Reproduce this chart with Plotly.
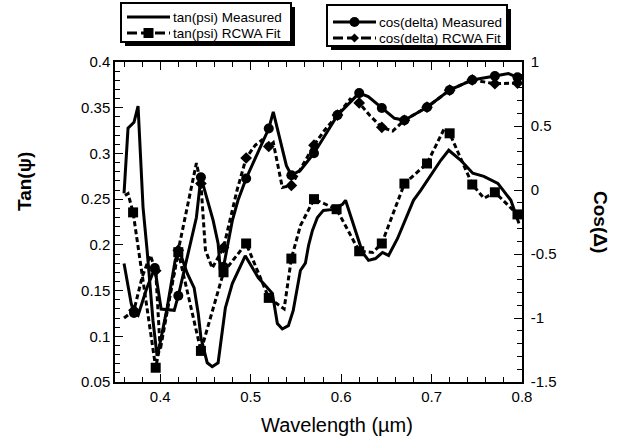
import plotly.graph_objects as go

FONT = "Arial, Liberation Sans, Helvetica, sans-serif"

# ---------------- data ----------------
# tan(psi) measured
tm_w = [0.360, 0.3644, 0.371, 0.3755, 0.381, 0.3855, 0.392, 0.3965, 0.3988, 0.4076, 0.4165, 0.421,
        0.4298, 0.4375, 0.442, 0.445, 0.452, 0.4575, 0.464, 0.472, 0.4797, 0.494, 0.5085, 0.524,
        0.5295, 0.535, 0.5417, 0.547, 0.555, 0.5605, 0.564, 0.5683, 0.5738, 0.5804, 0.5915, 0.6015,
        0.6049, 0.616, 0.6237, 0.6303, 0.638, 0.6458, 0.6525, 0.6624, 0.680, 0.688, 0.7102, 0.719,
        0.7323, 0.7456, 0.7578, 0.7733, 0.7877, 0.7966]
tm_v = [0.2564, 0.3276, 0.334, 0.3517, 0.241, 0.194, 0.117, 0.0787, 0.0875, 0.131, 0.183, 0.194,
        0.169, 0.153, 0.125, 0.0985, 0.071, 0.0667, 0.071, 0.131, 0.1577, 0.188, 0.164, 0.147,
        0.114, 0.108, 0.1116, 0.128, 0.172, 0.18, 0.1993, 0.2158, 0.23, 0.2377, 0.2388, 0.2443,
        0.2487, 0.2158, 0.1917, 0.183, 0.185, 0.1917, 0.1884, 0.207, 0.2487, 0.2596, 0.2925, 0.3035,
        0.2925, 0.2783, 0.275, 0.2673, 0.2487, 0.2235]

# tan(psi) RCWA fit
tf_w = [0.361, 0.3644, 0.370, 0.395, 0.420, 0.445, 0.470, 0.495, 0.520, 0.537, 0.545, 0.555,
        0.570, 0.595, 0.620, 0.635, 0.645, 0.670, 0.695, 0.714, 0.720, 0.745, 0.758, 0.770, 0.795]
tf_v = [0.254, 0.256, 0.2355, 0.0656, 0.192, 0.084, 0.170, 0.2015, 0.142, 0.130, 0.185, 0.221,
        0.250, 0.239, 0.193, 0.1917, 0.2015, 0.267, 0.289, 0.327, 0.322, 0.266, 0.251, 0.2575, 0.2333]

# cos(delta) measured
cm_w = [0.360, 0.368, 0.371, 0.3755, 0.385, 0.394, 0.401, 0.4155, 0.420, 0.433, 0.440, 0.445,
        0.4585, 0.464, 0.4665, 0.470, 0.4797, 0.486, 0.495, 0.520, 0.525, 0.5395, 0.545, 0.555,
        0.570, 0.596, 0.620, 0.630, 0.645, 0.659, 0.670, 0.695, 0.720, 0.745, 0.770, 0.785, 0.795]
cm_v = [-0.575, -0.89, -0.96, -0.98, -0.77, -0.61, -0.93, -0.94, -0.826, -0.418, -0.215, 0.10,
        -0.238, -0.418, -0.63, -0.60, -0.24, -0.08, 0.09, 0.48, 0.61, 0.19, 0.115, 0.154,
        0.287, 0.585, 0.757, 0.73, 0.64, 0.56, 0.545, 0.647, 0.78, 0.86, 0.89, 0.91, 0.88]

# cos(delta) RCWA fit
cf_w = [0.360, 0.371, 0.380, 0.389, 0.395, 0.400, 0.420, 0.440, 0.445, 0.450, 0.4575, 0.470,
        0.485, 0.495, 0.505, 0.5125, 0.520, 0.525, 0.535, 0.545, 0.570, 0.582, 0.596, 0.610,
        0.620, 0.632, 0.645, 0.657, 0.670, 0.695, 0.720, 0.745, 0.770, 0.795]
cf_v = [-1.0, -0.94, -0.68, -0.51, -0.63, -1.25, -0.47, 0.21, 0.05, -0.47, -0.61, -0.45,
        0.00, 0.25, 0.35, 0.39, 0.34, 0.37, 0.02, 0.036, 0.35, 0.47, 0.585, 0.71,
        0.68, 0.58, 0.49, 0.46, 0.545, 0.647, 0.78, 0.86, 0.83, 0.835]

marker_w = [0.370, 0.395, 0.420, 0.445, 0.470, 0.495, 0.520, 0.545, 0.570, 0.595,
            0.620, 0.645, 0.670, 0.695, 0.720, 0.745, 0.770, 0.795]

x_ticks = [0.4, 0.5, 0.6, 0.7, 0.8]
y1_ticks = [0.05, 0.1, 0.15, 0.2, 0.25, 0.3, 0.35, 0.4]
y2_ticks = [-1.5, -1.0, -0.5, 0.0, 0.5, 1.0]
y2_text = ["-1.5", "-1", "-0.5", "0", "0.5", "1"]

legend1_names = ["tan(psi) Measured", "tan(psi) RCWA Fit"]
legend2_names = ["cos(delta) Measured", "cos(delta) RCWA Fit"]

# ---------------- figure ----------------
W, H = 625, 444
ML, MR, MT, MB = 115, 103, 62, 62
PW, PH = W - ML - MR, H - MT - MB


def px(x):   # pixel -> paper x
    return (x - ML) / PW


def py(y):   # pixel -> paper y
    return (H - MB - y) / PH


def at_markers(ws, vs):
    out_w, out_v = [], []
    for m in marker_w:
        i = min(range(len(ws)), key=lambda k: abs(ws[k] - m))
        out_w.append(ws[i]); out_v.append(vs[i])
    return out_w, out_v


LW = 3
DASH = "5px,3px"
fig = go.Figure()

fig.add_trace(go.Scatter(x=tm_w, y=tm_v, mode="lines", name=legend1_names[0],
                         line=dict(color="black", width=LW), yaxis="y"))
fig.add_trace(go.Scatter(x=tf_w, y=tf_v, mode="lines", name=legend1_names[1],
                         line=dict(color="black", width=LW, dash=DASH), yaxis="y"))
mw, mv = at_markers(tf_w, tf_v)
fig.add_trace(go.Scatter(x=mw, y=mv, mode="markers", name=legend1_names[1],
                         marker=dict(symbol="square", size=10, color="black"), yaxis="y"))

fig.add_trace(go.Scatter(x=cm_w, y=cm_v, mode="lines", name=legend2_names[0],
                         line=dict(color="black", width=LW), yaxis="y2"))
mw, mv = at_markers(cm_w, cm_v)
fig.add_trace(go.Scatter(x=mw, y=mv, mode="markers", name=legend2_names[0],
                         marker=dict(symbol="circle", size=10, color="black"), yaxis="y2"))
fig.add_trace(go.Scatter(x=cf_w, y=cf_v, mode="lines", name=legend2_names[1],
                         line=dict(color="black", width=LW, dash=DASH), yaxis="y2"))
mw, mv = at_markers(cf_w, cf_v)
fig.add_trace(go.Scatter(x=mw, y=mv, mode="markers", name=legend2_names[1],
                         marker=dict(symbol="diamond", size=9, color="black"), yaxis="y2"))

# ---------------- legend boxes (drawn as shapes + text) ----------------
shapes, annotations = [], []


def legend_box(x0, y0, x1, y1, rows, names, styles):
    shapes.append(dict(type="rect", xref="paper", yref="paper", layer="above",
                       x0=px(x0 + 4), x1=px(x1 + 4), y0=py(y1 + 4), y1=py(y0 + 4),
                       fillcolor="black", line=dict(width=0)))
    shapes.append(dict(type="rect", xref="paper", yref="paper", layer="above",
                       x0=px(x0), x1=px(x1), y0=py(y1), y1=py(y0),
                       fillcolor="white", line=dict(color="black", width=2)))
    for (ry, name, (dash, sym)) in zip(rows, names, styles):
        lx0, lx1 = x0 + 6, x0 + 49
        shapes.append(dict(type="line", xref="paper", yref="paper", layer="above",
                           x0=px(lx0), x1=px(lx1), y0=py(ry), y1=py(ry),
                           line=dict(color="black", width=LW, dash=dash)))
        cx = (lx0 + lx1) / 2
        if sym == "square":
            shapes.append(dict(type="rect", xref="paper", yref="paper", layer="above",
                               x0=px(cx - 5), x1=px(cx + 5), y0=py(ry + 5), y1=py(ry - 5),
                               fillcolor="black", line=dict(width=0)))
        elif sym == "circle":
            shapes.append(dict(type="circle", xref="paper", yref="paper", layer="above",
                               x0=px(cx - 5), x1=px(cx + 5), y0=py(ry + 5), y1=py(ry - 5),
                               fillcolor="black", line=dict(width=0)))
        elif sym == "diamond":
            path = "M {} {} L {} {} L {} {} L {} {} Z".format(
                px(cx), py(ry - 4.5), px(cx + 4.5), py(ry), px(cx), py(ry + 4.5), px(cx - 4.5), py(ry))
            shapes.append(dict(type="path", xref="paper", yref="paper", layer="above",
                               path=path, fillcolor="black", line=dict(width=0)))
        annotations.append(dict(text=name, xref="paper", yref="paper", x=px(lx1 + 1), y=py(ry),
                                xanchor="left", yanchor="middle", showarrow=False,
                                font=dict(family=FONT, size=13.5, color="black")))


legend_box(121, 3, 291, 42, [17, 33], legend1_names, [("solid", None), ("10px,4px", "square")])
legend_box(327, 5, 507, 46, [22, 38], legend2_names, [("solid", "circle"), ("10px,4px", "diamond")])

annotations.append(dict(text="<b>Cos(\u0394)</b>", xref="paper", yref="paper", x=px(601), y=py(222),
                        xanchor="center", yanchor="middle", showarrow=False, textangle=90,
                        font=dict(family=FONT, size=19, color="black")))
annotations.append(dict(text="<b>Tan(\u03c8)</b>", xref="paper", yref="paper", x=px(24), y=py(182),
                        xanchor="center", yanchor="middle", showarrow=False, textangle=-90,
                        font=dict(family=FONT, size=19, color="black")))
annotations.append(dict(text="Wavelength (\u00b5m)", xref="paper", yref="paper", x=px(337), y=py(425),
                        xanchor="center", yanchor="middle", showarrow=False,
                        font=dict(family=FONT, size=20, color="black")))

axis_common = dict(showline=True, linecolor="black", linewidth=1.5, ticks="inside",
                   tickcolor="black", showgrid=False, zeroline=False,
                   tickfont=dict(family=FONT, size=15, color="black"))

fig.update_layout(
    width=W, height=H,
    margin=dict(l=ML, r=MR, t=MT, b=MB),
    plot_bgcolor="white", paper_bgcolor="white",
    showlegend=False,
    xaxis=dict(range=[0.35, 0.8], tickvals=x_ticks, ticklen=8, mirror="ticks",
               minor=dict(dtick=0.02, tick0=0.36, ticklen=5, ticks="inside", tickcolor="black"),
               **axis_common),
    yaxis=dict(range=[0.05, 0.4], tickvals=y1_ticks, ticklen=8,
               minor=dict(dtick=0.01, ticklen=5, ticks="inside", tickcolor="black"),
               **axis_common),
    yaxis2=dict(range=[-1.5, 1.0], tickvals=y2_ticks, ticktext=y2_text, ticklen=8,
                overlaying="y", side="right", ticklabelstandoff=4,
                minor=dict(dtick=0.1, ticklen=5, ticks="inside", tickcolor="black"),
                **axis_common),
    shapes=shapes,
    annotations=annotations,
)

fig.write_html("out.html")
